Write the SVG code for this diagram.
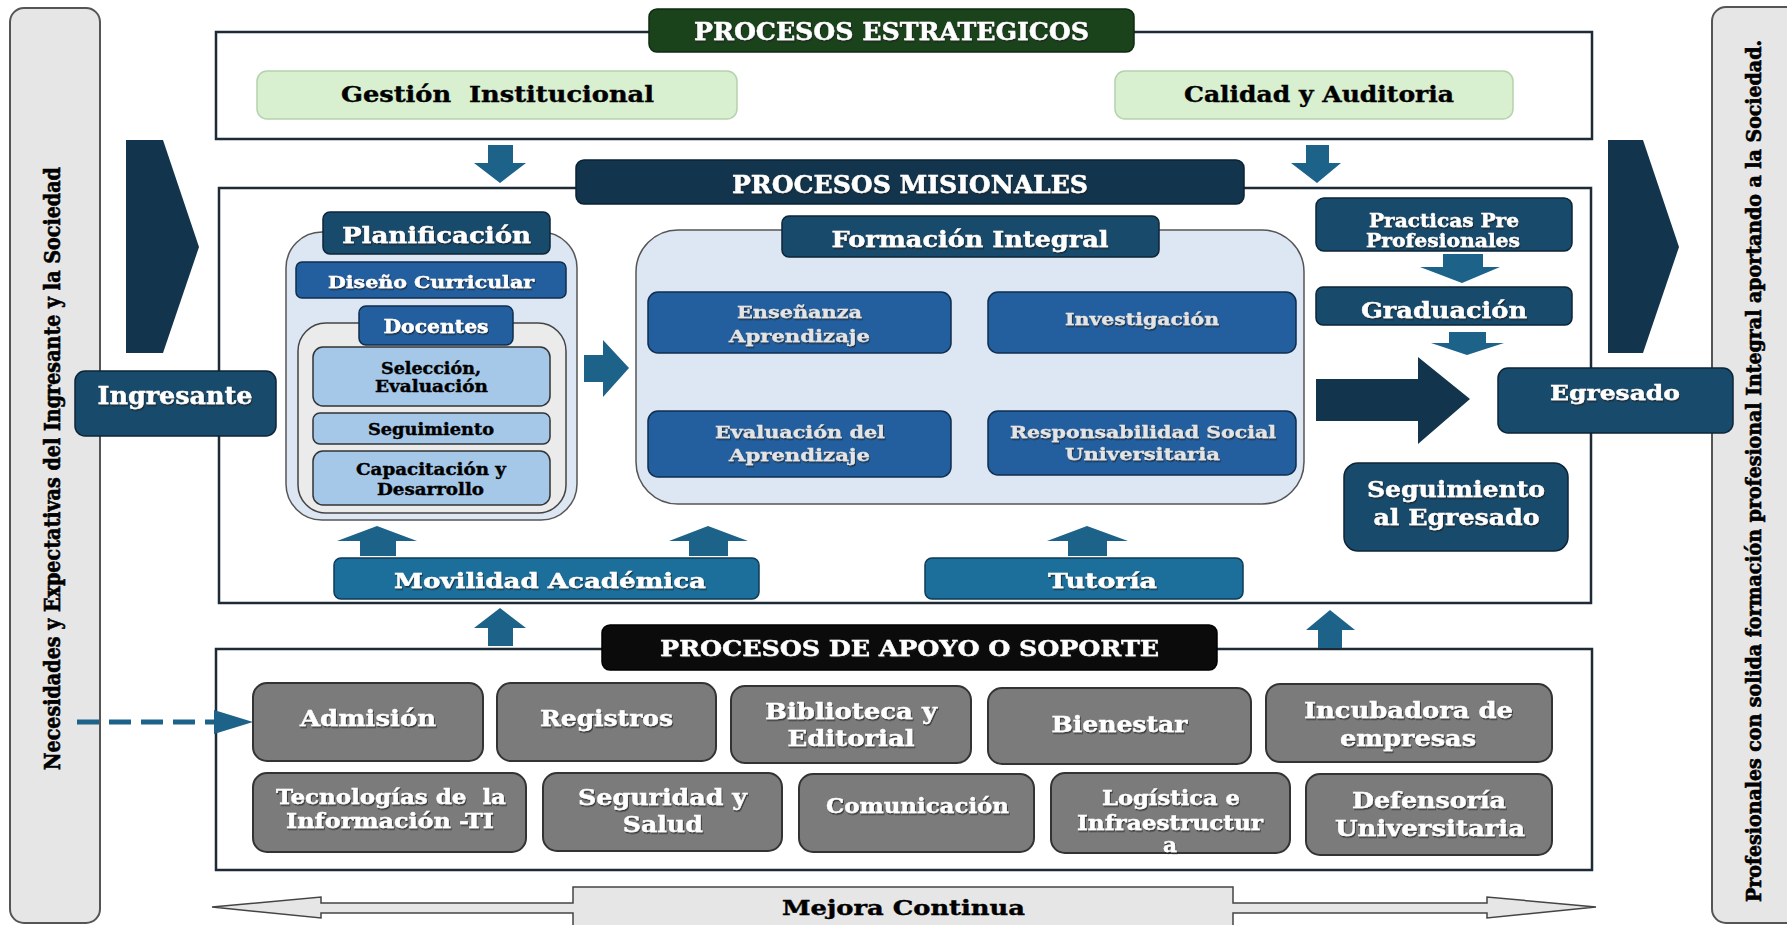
<svg xmlns="http://www.w3.org/2000/svg" width="1787" height="925" viewBox="0 0 1787 925">
<defs>
<filter id="sh" x="-5%" y="-20%" width="110%" height="150%">
<feDropShadow dx="1" dy="1.5" stdDeviation="0.7" flood-color="#222" flood-opacity="0.75"/>
</filter>
</defs>
<style>
.t{font-family:"DejaVu Serif","Liberation Serif",serif;font-weight:bold;text-anchor:middle}
.v{font-family:"DejaVu Serif Condensed","DejaVu Serif","Liberation Serif",serif;font-weight:bold;text-anchor:middle;fill:#000;stroke:#000;stroke-width:0.6}
.w{fill:#ffffff;stroke:#ffffff;stroke-width:0.4;filter:url(#sh)}
.lg{fill:#e4e4e4;stroke:#e4e4e4;stroke-width:0.3;filter:url(#sh)}
.k{fill:#000000;stroke:#000;stroke-width:0.4}
.pre{white-space:pre}
.panel{fill:#e6e6e6;stroke:#555;stroke-width:2}
.frame{fill:#ffffff;stroke:#1e2b36;stroke-width:2.5}
.green{fill:#d8efd0;stroke:#b4d2ad;stroke-width:1.5}
.navy{fill:#12354d;stroke:#0a2233;stroke-width:1.5}
.dblue{fill:#184a6b;stroke:#0c2537;stroke-width:1.5}
.mblue{fill:#235f9e;stroke:#0f2e4d;stroke-width:1.5}
.teal{fill:#1b6f9a;stroke:#0f3b55;stroke-width:1.5}
.lblue{fill:#a6c8e8;stroke:#333;stroke-width:1.5}
.cont{fill:#dce7f3;stroke:#555;stroke-width:1.5}
.gcont{fill:#ebebeb;stroke:#444;stroke-width:1.5}
.gray{fill:#7b7b7b;stroke:#333;stroke-width:2}
.arr{fill:#1d6289}
.big{fill:#12354d}
</style>

<g id="side-left">
<rect class="panel" x="10" y="8" width="90" height="915" rx="14"/>
<text class="v" font-size="23" x="60" y="468.5" transform="rotate(-90 60 468.5)" textLength="603" lengthAdjust="spacingAndGlyphs">Necesidades y Expectativas del Ingresante y la Sociedad</text>
</g>
<g id="side-right">
<rect class="panel" x="1712" y="7" width="90" height="916" rx="14"/>
<text class="v" font-size="19.5" x="1761" y="471" transform="rotate(-90 1761 471)" textLength="862" lengthAdjust="spacingAndGlyphs">Profesionales con solida formación profesional Integral aportando a la Sociedad.</text>
</g>

<g id="frames">
<rect class="frame" x="216" y="32" width="1376" height="107"/>
<rect class="frame" x="219" y="188" width="1372" height="415"/>
<rect class="frame" x="216" y="649" width="1376" height="221"/>
</g>

<g id="chevrons">
<polygon class="big" points="126,140 163,140 199,247 163,353 126,353"/>
<polygon class="big" points="1608,140 1643,140 1679,247 1643,353 1608,353"/>
</g>

<g id="estrategicos">
<rect x="649" y="9" width="485" height="43" rx="8" fill="#1a431c" stroke="#0e2a10" stroke-width="1.5"/>
<text class="t w" font-size="24" x="891.5" y="40" textLength="395" lengthAdjust="spacingAndGlyphs">PROCESOS ESTRATEGICOS</text>
</g>
<g id="gestion">
<rect class="green" x="257" y="71" width="480" height="48" rx="10"/>
<text class="t k pre" font-size="23" x="497.5" y="102" textLength="313" lengthAdjust="spacingAndGlyphs">Gestión  Institucional</text>
</g>
<g id="calidad">
<rect class="green" x="1115" y="71" width="398" height="48" rx="10"/>
<text class="t k" font-size="23" x="1319" y="102" textLength="270" lengthAdjust="spacingAndGlyphs">Calidad y Auditoria</text>
</g>

<g id="misionales">
<rect class="navy" x="576" y="160" width="668" height="44" rx="8"/>
<text class="t w" font-size="24" x="910" y="193" textLength="356" lengthAdjust="spacingAndGlyphs">PROCESOS MISIONALES</text>
</g>

<g id="ingresante">
<rect class="dblue" x="75" y="371" width="201" height="65" rx="10"/>
<text class="t w" font-size="24" x="175" y="404" textLength="155" lengthAdjust="spacingAndGlyphs">Ingresante</text>
</g>
<g id="egresado">
<rect class="dblue" x="1498" y="368" width="235" height="65" rx="10"/>
<text class="t w" font-size="21" x="1615" y="400" textLength="130" lengthAdjust="spacingAndGlyphs">Egresado</text>
</g>

<g id="planificacion">
<rect class="cont" x="286" y="232" width="291" height="288" rx="36"/>
<rect class="dblue" x="323" y="212" width="227" height="42" rx="7"/>
<text class="t w" font-size="22" x="436.5" y="243" textLength="189" lengthAdjust="spacingAndGlyphs">Planificación</text>
</g>
<g id="diseno">
<rect class="mblue" x="296" y="262" width="270" height="36" rx="6"/>
<text class="t w" font-size="17" x="431" y="288" textLength="206" lengthAdjust="spacingAndGlyphs">Diseño Curricular</text>
</g>
<g id="docentes">
<rect class="gcont" x="298" y="323" width="268" height="190" rx="28"/>
<rect class="mblue" x="359" y="306" width="154" height="39" rx="7"/>
<text class="t w" font-size="18" x="436" y="333" textLength="105" lengthAdjust="spacingAndGlyphs">Docentes</text>
</g>
<g id="seleccion">
<rect class="lblue" x="313" y="347" width="237" height="59" rx="10"/>
<text class="t k" font-size="16" x="431" y="374" textLength="100" lengthAdjust="spacingAndGlyphs">Selección,</text>
<text class="t k" font-size="16" x="431.5" y="392" textLength="113" lengthAdjust="spacingAndGlyphs">Evaluación</text>
</g>
<g id="seguimiento-doc">
<rect class="lblue" x="313" y="413" width="237" height="31" rx="7"/>
<text class="t k" font-size="16" x="431" y="435" textLength="126" lengthAdjust="spacingAndGlyphs">Seguimiento</text>
</g>
<g id="capacitacion">
<rect class="lblue" x="313" y="451" width="237" height="54" rx="10"/>
<text class="t k" font-size="16" x="431" y="475" textLength="150" lengthAdjust="spacingAndGlyphs">Capacitación y</text>
<text class="t k" font-size="16" x="430.5" y="495" textLength="107" lengthAdjust="spacingAndGlyphs">Desarrollo</text>
</g>

<g id="formacion">
<rect class="cont" x="636" y="230" width="668" height="274" rx="42"/>
<rect class="dblue" x="782" y="216" width="377" height="41" rx="7"/>
<text class="t w" font-size="22" x="970" y="247" textLength="277" lengthAdjust="spacingAndGlyphs">Formación Integral</text>
</g>
<g id="ensenanza">
<rect class="mblue" x="648" y="292" width="303" height="61" rx="10"/>
<text class="t lg" font-size="17" x="799.5" y="318" textLength="125" lengthAdjust="spacingAndGlyphs">Enseñanza</text>
<text class="t lg" font-size="17" x="799.5" y="342" textLength="141" lengthAdjust="spacingAndGlyphs">Aprendizaje</text>
</g>
<g id="investigacion">
<rect class="mblue" x="988" y="292" width="308" height="61" rx="10"/>
<text class="t lg" font-size="17" x="1142" y="325" textLength="154" lengthAdjust="spacingAndGlyphs">Investigación</text>
</g>
<g id="evaluacion">
<rect class="mblue" x="648" y="411" width="303" height="66" rx="10"/>
<text class="t lg" font-size="17" x="800" y="438" textLength="170" lengthAdjust="spacingAndGlyphs">Evaluación del</text>
<text class="t lg" font-size="17" x="799.5" y="461" textLength="141" lengthAdjust="spacingAndGlyphs">Aprendizaje</text>
</g>
<g id="rsu">
<rect class="mblue" x="988" y="411" width="308" height="64" rx="10"/>
<text class="t lg" font-size="17" x="1143" y="438" textLength="266" lengthAdjust="spacingAndGlyphs">Responsabilidad Social</text>
<text class="t lg" font-size="17" x="1142.5" y="460" textLength="155" lengthAdjust="spacingAndGlyphs">Universitaria</text>
</g>

<g id="movilidad">
<rect class="teal" x="334" y="558" width="425" height="41" rx="7"/>
<text class="t w" font-size="21" x="550" y="588" textLength="312" lengthAdjust="spacingAndGlyphs">Movilidad Académica</text>
</g>
<g id="tutoria">
<rect class="teal" x="925" y="558" width="318" height="41" rx="7"/>
<text class="t w" font-size="21" x="1102.5" y="588" textLength="109" lengthAdjust="spacingAndGlyphs">Tutoría</text>
</g>

<g id="practicas">
<rect class="dblue" x="1316" y="198" width="256" height="53" rx="8"/>
<text class="t w" font-size="18" x="1444" y="227" textLength="150" lengthAdjust="spacingAndGlyphs">Practicas Pre</text>
<text class="t w" font-size="18" x="1443" y="247" textLength="154" lengthAdjust="spacingAndGlyphs">Profesionales</text>
</g>
<g id="graduacion">
<rect class="dblue" x="1316" y="287" width="256" height="38" rx="7"/>
<text class="t w" font-size="22" x="1444" y="318" textLength="166" lengthAdjust="spacingAndGlyphs">Graduación</text>
</g>
<g id="seguimiento-egresado">
<rect class="dblue" x="1344" y="463" width="224" height="88" rx="14"/>
<text class="t w" font-size="23" x="1456" y="497" textLength="178" lengthAdjust="spacingAndGlyphs">Seguimiento</text>
<text class="t w" font-size="23" x="1456.5" y="525" textLength="166" lengthAdjust="spacingAndGlyphs">al Egresado</text>
</g>

<g id="apoyo">
<rect x="602" y="625" width="615" height="45" rx="8" fill="#0b0b0b" stroke="#000" stroke-width="1.5"/>
<text class="t w" font-size="22" x="909.5" y="656" textLength="499" lengthAdjust="spacingAndGlyphs">PROCESOS DE APOYO O SOPORTE</text>
</g>
<g id="admision">
<rect class="gray" x="253" y="683" width="230" height="78" rx="14"/>
<text class="t w" font-size="22" x="368" y="726" textLength="136" lengthAdjust="spacingAndGlyphs">Admisión</text>
</g>
<g id="registros">
<rect class="gray" x="497" y="683" width="219" height="78" rx="14"/>
<text class="t w" font-size="22" x="606.5" y="726" textLength="133" lengthAdjust="spacingAndGlyphs">Registros</text>
</g>
<g id="biblioteca">
<rect class="gray" x="731" y="686" width="240" height="77" rx="14"/>
<text class="t w" font-size="22" x="851" y="719" textLength="172" lengthAdjust="spacingAndGlyphs">Biblioteca y</text>
<text class="t w" font-size="22" x="851" y="746" textLength="127" lengthAdjust="spacingAndGlyphs">Editorial</text>
</g>
<g id="bienestar">
<rect class="gray" x="988" y="688" width="263" height="76" rx="14"/>
<text class="t w" font-size="22" x="1119.5" y="732" textLength="136" lengthAdjust="spacingAndGlyphs">Bienestar</text>
</g>
<g id="incubadora">
<rect class="gray" x="1266" y="684" width="286" height="78" rx="14"/>
<text class="t w" font-size="22" x="1408.5" y="718" textLength="209" lengthAdjust="spacingAndGlyphs">Incubadora de</text>
<text class="t w" font-size="22" x="1408" y="746" textLength="136" lengthAdjust="spacingAndGlyphs">empresas</text>
</g>
<g id="tecnologias">
<rect class="gray" x="253" y="773" width="273" height="79" rx="14"/>
<text class="t w pre" font-size="20" x="391" y="804" textLength="230" lengthAdjust="spacingAndGlyphs">Tecnologías de  la</text>
<text class="t w" font-size="20" x="390" y="828" textLength="208" lengthAdjust="spacingAndGlyphs">Información -TI</text>
</g>
<g id="seguridad">
<rect class="gray" x="543" y="773" width="239" height="78" rx="14"/>
<text class="t w" font-size="22" x="662.5" y="805" textLength="169" lengthAdjust="spacingAndGlyphs">Seguridad y</text>
<text class="t w" font-size="22" x="662.8" y="832" textLength="80" lengthAdjust="spacingAndGlyphs">Salud</text>
</g>
<g id="comunicacion">
<rect class="gray" x="799" y="774" width="235" height="78" rx="14"/>
<text class="t w" font-size="21" x="917.5" y="813" textLength="183" lengthAdjust="spacingAndGlyphs">Comunicación</text>
</g>
<g id="logistica">
<rect class="gray" x="1051" y="773" width="239" height="80" rx="14"/>
<text class="t w" font-size="20" x="1171" y="805" textLength="138" lengthAdjust="spacingAndGlyphs">Logística e</text>
<text class="t w" font-size="20" x="1170" y="830" textLength="186" lengthAdjust="spacingAndGlyphs">Infraestructur</text>
<text class="t w" font-size="20" x="1170" y="852" textLength="14" lengthAdjust="spacingAndGlyphs">a</text>
</g>
<g id="defensoria">
<rect class="gray" x="1306" y="774" width="246" height="81" rx="14"/>
<text class="t w" font-size="22" x="1429" y="808" textLength="154" lengthAdjust="spacingAndGlyphs">Defensoría</text>
<text class="t w" font-size="22" x="1430" y="836" textLength="190" lengthAdjust="spacingAndGlyphs">Universitaria</text>
</g>

<g id="mejora">
<polygon points="212,907 321,897 321,903 573,903 573,887 1233,887 1233,903 1487,903 1487,897 1596,907 1487,918 1487,913 1233,913 1233,932 573,932 573,913 321,913 321,918" fill="#e6e6e6" stroke="#444" stroke-width="1.5"/>
<text class="t k" font-size="21" x="903.5" y="915" textLength="243" lengthAdjust="spacingAndGlyphs">Mejora Continua</text>
</g>

<g id="connectors">
<polygon class="arr" points="488,145 513,145 513,163 526,163 500,183 474,163 488,163"/>
<polygon class="arr" points="1306,145 1329,145 1329,163 1341,163 1317,183 1291,163 1306,163"/>
<polygon class="arr" points="584,355 603,355 603,340 629,368 603,397 603,382 584,382"/>
<polygon class="arr" points="360,556 396,556 396,541 417,541 377,526 337,541 360,541"/>
<polygon class="arr" points="689,556 728,556 728,541 748,541 708,526 669,541 689,541"/>
<polygon class="arr" points="1068,556 1107,556 1107,541 1128,541 1087,526 1047,541 1068,541"/>
<polygon class="arr" points="1443,254 1483,254 1483,267 1500,267 1462,283 1420,267 1443,267"/>
<polygon class="arr" points="1449,332 1486,332 1486,343 1504,343 1467,355 1431,343 1449,343"/>
<polygon class="big" points="1316,379 1418,379 1418,357 1470,399 1418,444 1418,421 1316,421"/>
<polygon class="arr" points="488,646 513,646 513,628 526,628 500,608 474,628 488,628"/>
<polygon class="arr" points="1318,648 1342,648 1342,630 1355,630 1330,610 1306,630 1318,630"/>
<line x1="77" y1="722" x2="216" y2="722" stroke="#1d6289" stroke-width="5" stroke-dasharray="22 10"/>
<polygon class="arr" points="214,710 253,722 214,734"/>
</g>
</svg>
